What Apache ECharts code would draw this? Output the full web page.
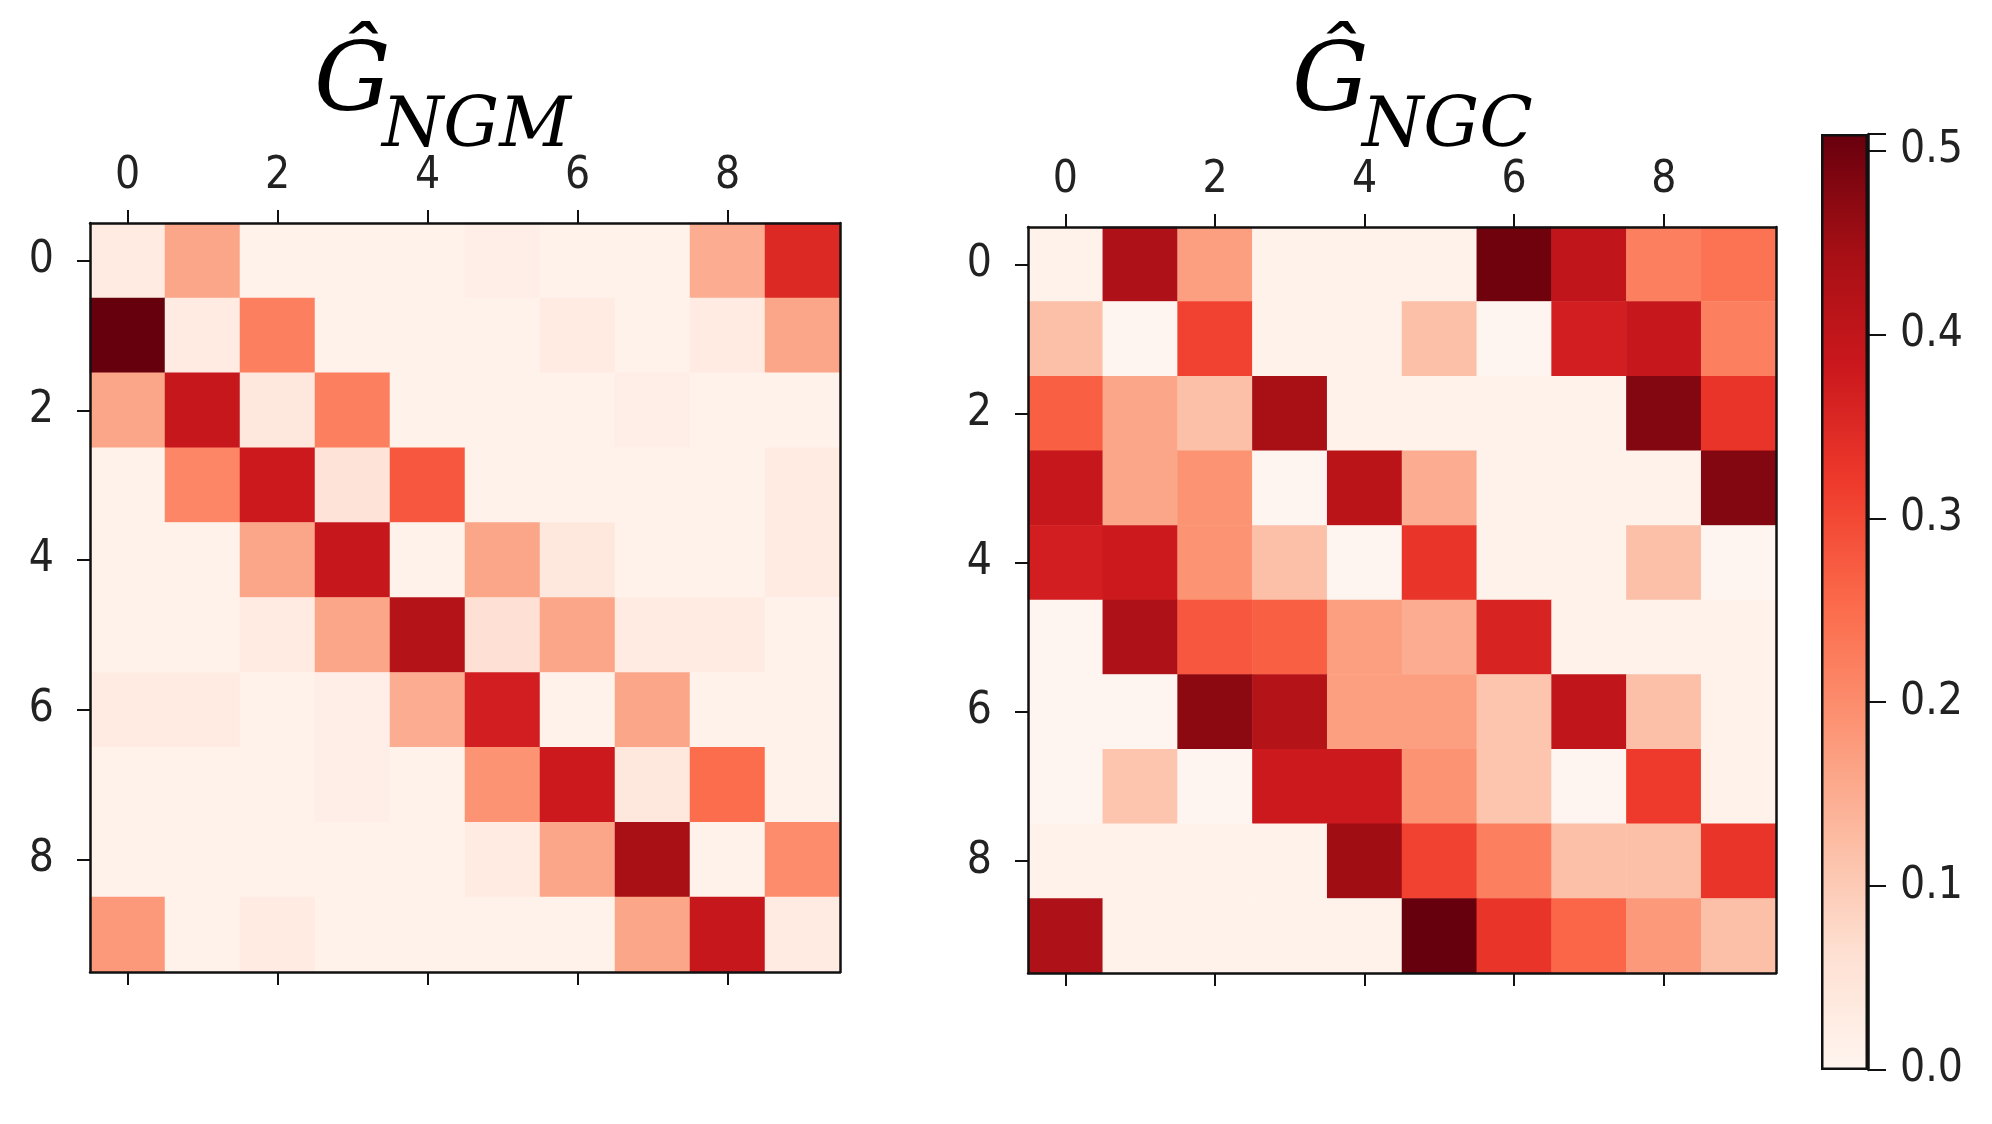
<!DOCTYPE html>
<html>
<head>
<meta charset="utf-8">
<script src="https://cdn.jsdelivr.net/npm/echarts@6/dist/echarts.min.js"></script>
<style>
html,body{margin:0;padding:0;background:#ffffff;}
#chart{width:1992px;height:1124px;}
</style>
</head>
<body>
<div id="chart"></div>
<script>
// ---- data ----
const categories = ['0','1','2','3','4','5','6','7','8','9'];

// rows = source node (y), columns = target node (x)
const ngmMatrix = [
  [0.03,0.16,0.01,0.01,0.01,0.02,0.01,0.01,0.15,0.35],
  [0.51,0.03,0.22,0.01,0.01,0.01,0.03,0.01,0.03,0.16],
  [0.16,0.39,0.04,0.22,0.01,0.01,0.01,0.02,0.01,0.01],
  [0.01,0.21,0.38,0.05,0.28,0.01,0.01,0.01,0.01,0.03],
  [0.01,0.01,0.16,0.39,0.01,0.16,0.04,0.01,0.01,0.03],
  [0.01,0.01,0.03,0.16,0.42,0.06,0.16,0.03,0.03,0.01],
  [0.03,0.03,0.01,0.02,0.15,0.37,0.01,0.16,0.01,0.01],
  [0.01,0.01,0.01,0.02,0.01,0.19,0.38,0.04,0.25,0.01],
  [0.01,0.01,0.01,0.01,0.01,0.03,0.16,0.44,0.01,0.20],
  [0.18,0.01,0.03,0.01,0.01,0.01,0.01,0.16,0.39,0.03]
];

const ngcMatrix = [
  [0.01,0.43,0.17,0.01,0.01,0.01,0.50,0.40,0.22,0.24],
  [0.12,0.00,0.31,0.01,0.01,0.12,0.00,0.37,0.39,0.22],
  [0.27,0.16,0.12,0.44,0.01,0.01,0.01,0.01,0.48,0.33],
  [0.39,0.16,0.19,0.00,0.41,0.15,0.01,0.01,0.01,0.48],
  [0.37,0.38,0.19,0.12,0.00,0.33,0.01,0.01,0.12,0.00],
  [0.00,0.43,0.28,0.27,0.17,0.15,0.36,0.01,0.01,0.01],
  [0.00,0.00,0.47,0.42,0.17,0.17,0.11,0.40,0.12,0.01],
  [0.00,0.11,0.00,0.38,0.38,0.19,0.11,0.00,0.32,0.01],
  [0.01,0.01,0.01,0.01,0.45,0.31,0.22,0.12,0.12,0.33],
  [0.43,0.01,0.01,0.01,0.01,0.51,0.33,0.26,0.18,0.12]
];

const colorRange = [0, 0.509];
const colorbarTickStep = 0.1;
const redsPalette = ['#fff5f0','#fee0d2','#fcbba1','#fc9272','#fb6a4a','#ef3b2c','#cb181d','#a50f15','#67000d'];

// ---- build ----
function toCells(m){
  const out = [];
  for (let r = 0; r < m.length; r++)
    for (let c = 0; c < m[r].length; c++)
      out.push([c, r, m[r][c]]);
  return out;
}

const tickFont = {fontFamily: "'DejaVu Sans Condensed','DejaVu Sans',sans-serif", fontSize: 44, color: '#222'};
const lineStyle = {color: '#111', width: 2.5};

function topAxis(g){
  return {type:'category', gridIndex:g, position:'top', data:categories, boundaryGap:true, z:5,
    axisLine:{show:true, lineStyle},
    axisTick:{show:true, interval:1, alignWithLabel:true, length:13, lineStyle:{color:'#111', width:2}},
    axisLabel:Object.assign({show:true, interval:1, margin:24}, tickFont),
    splitLine:{show:false}};
}
function bottomAxis(g){
  return {type:'category', gridIndex:g, position:'bottom', data:categories, boundaryGap:true, z:5,
    axisLine:{show:true, lineStyle},
    axisTick:{show:true, interval:1, alignWithLabel:true, length:13, lineStyle:{color:'#111', width:2}},
    axisLabel:{show:false}, splitLine:{show:false}};
}
function leftAxis(g){
  return {type:'category', gridIndex:g, position:'left', data:categories, inverse:true, boundaryGap:true, z:5,
    axisLine:{show:true, lineStyle},
    axisTick:{show:true, interval:1, alignWithLabel:true, length:13, lineStyle:{color:'#111', width:2}},
    axisLabel:Object.assign({show:true, interval:1, margin:36}, tickFont),
    splitLine:{show:false}};
}
function rightAxis(g){
  return {type:'category', gridIndex:g, position:'right', data:categories, inverse:true, boundaryGap:true, z:5,
    axisLine:{show:true, lineStyle}, axisTick:{show:false}, axisLabel:{show:false}, splitLine:{show:false}};
}

const titleFont = "'DejaVu Serif',serif";
const option = {
  backgroundColor:'#ffffff',
  animation:false,
  title:[
    {text:'Ĝ', left:314, top:37, padding:0, textStyle:{fontFamily:titleFont, fontStyle:'italic', fontWeight:'normal', fontSize:96, color:'#000'}},
    {text:'NGM', left:382, top:93, padding:0, textStyle:{fontFamily:titleFont, fontStyle:'italic', fontWeight:'normal', fontSize:70, color:'#000'}},
    {text:'Ĝ', left:1292, top:37, padding:0, textStyle:{fontFamily:titleFont, fontStyle:'italic', fontWeight:'normal', fontSize:96, color:'#000'}},
    {text:'NGC', left:1362, top:93, padding:0, textStyle:{fontFamily:titleFont, fontStyle:'italic', fontWeight:'normal', fontSize:70, color:'#000'}}
  ],
  grid:[
    {left:90, top:223, width:750, height:749, containLabel:false},
    {left:1028, top:227, width:748, height:746, containLabel:false},
    {left:1821, top:134, width:47, height:936, containLabel:false}
  ],
  xAxis:[
    topAxis(0), bottomAxis(0), topAxis(1), bottomAxis(1),
    {type:'category', gridIndex:2, data:['colorbar'], show:false}
  ],
  yAxis:[
    leftAxis(0), rightAxis(0), leftAxis(1), rightAxis(1),
    {type:'value', gridIndex:2, position:'right', min:colorRange[0], max:colorRange[1], interval:colorbarTickStep, z:5,
      axisLine:{show:true, lineStyle},
      axisTick:{show:true, length:18, lineStyle:{color:'#111', width:2}},
      axisLabel:Object.assign({show:true, margin:32,
        formatter:function(v){ const k = v/colorbarTickStep; return Math.abs(k-Math.round(k))<1e-6 ? v.toFixed(1) : ''; }}, tickFont),
      splitLine:{show:false}}
  ],
  visualMap:[
    {type:'continuous', show:false, min:colorRange[0], max:colorRange[1], seriesIndex:[0,1], dimension:2,
     inRange:{color:redsPalette}}
  ],
  series:[
    {name:'NGM', type:'heatmap', xAxisIndex:0, yAxisIndex:0, data:toCells(ngmMatrix), silent:true,
     itemStyle:{borderWidth:0}, emphasis:{disabled:true}},
    {name:'NGC', type:'heatmap', xAxisIndex:2, yAxisIndex:2, data:toCells(ngcMatrix), silent:true,
     itemStyle:{borderWidth:0}, emphasis:{disabled:true}},
    {name:'colorbar', type:'bar', xAxisIndex:4, yAxisIndex:4, data:[colorRange[1]], barWidth:'100%', silent:true,
     itemStyle:{
       color:new echarts.graphic.LinearGradient(0,1,0,0, redsPalette.map(function(c,i){return {offset:i/(redsPalette.length-1), color:c};})),
       borderColor:'#111', borderWidth:2.5
     }}
  ]
};

const chart = echarts.init(document.getElementById('chart'), null, {renderer:'canvas'});
chart.setOption(option);
</script>
</body>
</html>
